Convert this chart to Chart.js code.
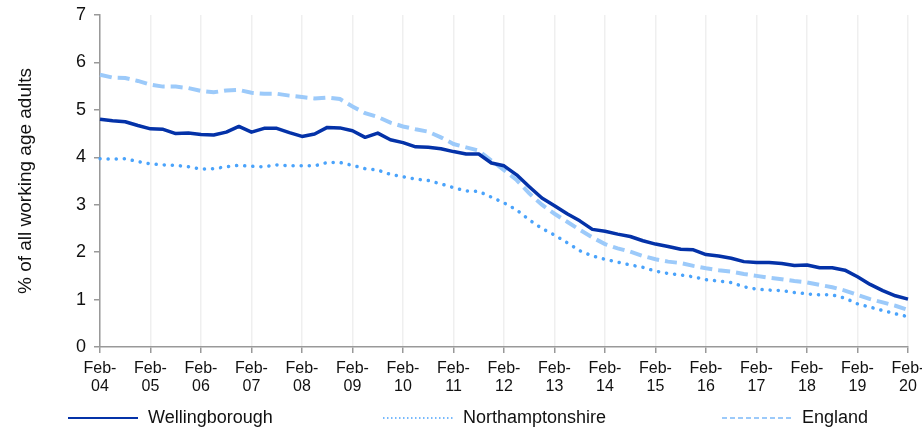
<!DOCTYPE html>
<html><head><meta charset="utf-8">
<style>html,body{margin:0;padding:0;background:#fff}#wrap{width:922px;height:431px}</style>
<script src="https://cdn.jsdelivr.net/npm/chart.js@4/dist/chart.umd.min.js"></script>
</head><body><div id="wrap"><canvas id="c" width="922" height="431"></canvas></div>
<script>
const years = ['04','05','06','07','08','09','10','11','12','13','14','15','16','17','18','19','20'];
const months = ['Feb','May','Aug','Nov'];
const categories = [];
years.forEach((y, i) => months.forEach((m, j) => { if (i < years.length - 1 || j === 0) categories.push(m + '-' + y); }));

const wellingborough = [4.80,4.77,4.75,4.67,4.60,4.59,4.50,4.51,4.48,4.47,4.53,4.65,4.53,4.61,4.61,4.52,4.44,
  4.49,4.63,4.62,4.56,4.42,4.51,4.37,4.31,4.22,4.21,4.18,4.12,4.07,4.07,3.88,3.82,
  3.63,3.38,3.14,2.98,2.81,2.66,2.48,2.44,2.38,2.33,2.24,2.17,2.12,2.06,2.05,1.95,
  1.92,1.87,1.80,1.78,1.78,1.76,1.72,1.73,1.67,1.67,1.62,1.48,1.32,1.19,1.08,1.01];
const northamptonshire = [3.97,3.96,3.97,3.91,3.86,3.84,3.83,3.80,3.75,3.76,3.80,3.83,3.81,3.80,3.84,3.82,3.82,
  3.82,3.89,3.89,3.83,3.76,3.73,3.64,3.59,3.54,3.51,3.44,3.36,3.29,3.28,3.16,3.04,
  2.89,2.68,2.50,2.36,2.20,2.03,1.92,1.85,1.79,1.73,1.68,1.60,1.55,1.52,1.48,1.42,
  1.39,1.36,1.27,1.22,1.20,1.19,1.15,1.12,1.10,1.10,1.03,0.91,0.84,0.77,0.70,0.64];
const england = [5.74,5.68,5.67,5.61,5.53,5.49,5.49,5.46,5.40,5.37,5.41,5.42,5.36,5.34,5.34,5.30,5.27,
  5.24,5.26,5.23,5.07,4.93,4.85,4.73,4.65,4.59,4.54,4.42,4.28,4.21,4.14,3.93,3.73,
  3.52,3.24,3.00,2.81,2.64,2.47,2.31,2.17,2.08,2.01,1.92,1.85,1.80,1.77,1.71,1.66,
  1.62,1.59,1.54,1.50,1.46,1.43,1.39,1.36,1.31,1.26,1.19,1.10,1.01,0.94,0.87,0.78];
const seriesNames = ['Wellingborough', 'Northamptonshire', 'England'];

const FONT = '"Liberation Sans", Arial, sans-serif';
const legendStyle = [
  {dash: [], width: 2},
  {dash: [1.5, 2.5], width: 1.5},
  {dash: [5, 3], width: 2}
];
const legendX = [68, 383, 722];

const bottomLegend = {
  id: 'bottomLegend',
  afterDraw(chart) {
    const ctx = chart.ctx;
    const y = 418;
    chart.data.datasets.forEach((ds, i) => {
      ctx.save();
      ctx.strokeStyle = ds.borderColor;
      ctx.lineWidth = legendStyle[i].width;
      ctx.setLineDash(legendStyle[i].dash);
      ctx.beginPath();
      ctx.moveTo(legendX[i], y);
      ctx.lineTo(legendX[i] + 70, y);
      ctx.stroke();
      ctx.setLineDash([]);
      ctx.fillStyle = '#111';
      ctx.font = '18px ' + FONT;
      ctx.textBaseline = 'middle';
      ctx.fillText(ds.label, legendX[i] + 80, y);
      ctx.restore();
    });
  }
};

new Chart(document.getElementById('c'), {
  type: 'line',
  data: {
    labels: categories,
    datasets: [
      {label: seriesNames[0], data: wellingborough, borderColor: '#0432a8', borderWidth: 3.5, tension: 0, pointRadius: 0, borderJoinStyle: 'round'},
      {label: seriesNames[1], data: northamptonshire, borderColor: '#4aa3fb', borderWidth: 3.5, borderDash: [0.1, 8], borderCapStyle: 'round', tension: 0, pointRadius: 0},
      {label: seriesNames[2], data: england, borderColor: '#9ccafa', borderWidth: 4, borderDash: [12, 6], tension: 0, pointRadius: 0}
    ]
  },
  options: {
    responsive: false,
    devicePixelRatio: 1,
    animation: false,
    layout: {padding: {left: 0, top: 15, right: 14, bottom: 30}},
    plugins: {legend: {display: false}, tooltip: {enabled: false}},
    scales: {
      x: {
        type: 'category',
        offset: false,
        grid: {display: true, color: '#efefef', lineWidth: 1.5, tickLength: 6, tickColor: '#999', drawOnChartArea: true},
        border: {display: true, color: '#999', width: 1.5},
        ticks: {
          autoSkip: false, maxRotation: 0, minRotation: 0, padding: 7,
          color: '#111', font: {family: FONT, size: 16, lineHeight: 1.12},
          callback: function(v, i) { const c = categories[i]; return (i % 4 === 0) ? [c.slice(0, 4), c.slice(4)] : null; }
        },
        afterFit(s) { s.height = 54; s.paddingLeft = 0; s.paddingRight = 0; }
      },
      y: {
        min: 0, max: 7,
        grid: {display: true, drawOnChartArea: false, tickLength: 6, tickColor: '#999', lineWidth: 1.5},
        border: {display: true, color: '#999', width: 1.5},
        ticks: {stepSize: 1, padding: 8, color: '#111', font: {family: FONT, size: 18}},
        title: {display: true, text: '% of all working age adults', color: '#111', font: {family: FONT, size: 19}, padding: {top: 14, bottom: 0}},
        afterFit(s) { s.width = 100; s.paddingTop = 0; s.paddingBottom = 0; }
      }
    }
  },
  plugins: [bottomLegend]
});
</script>
</body></html>
